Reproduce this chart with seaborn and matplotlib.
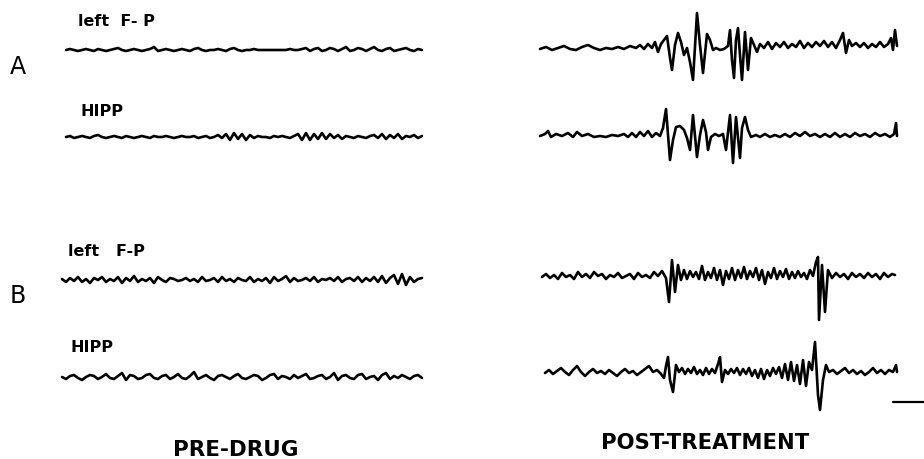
import numpy as np
import matplotlib
matplotlib.use("Agg")
import matplotlib.pyplot as plt
import seaborn as sns

# EEG amplitudes (arbitrary units, positive = up)
# Pre-drug sweeps: uniformly sampled every 40 ms
DT_PRE = 40
a_fp_pre = [0, 1, 0, -1, 0, 1, 0, -1, 1, 0, -1, 0, 1, 2, 0, -1, 0, 1, 0, -1,
            0, 1, 3, -1, 0, 1, 0, -1, 0, 1, 0, -1, 1, 2, 0, -1, 0, 0, 1, 0,
            -1, 1, 2, 0, -1, 0, 0, 1, 0, 0, 0, 0, 0, 0, 0, 0, 1, 0, 0, 1,
            2, -1, 1, 2, -1, 0, 2, 1, -1, 1, 3, -1, 0, 2, 1, -1, 1, 3, 0, -1,
            1, 2, -1, 0, 1, 2, 0, -1, 1, 0]
a_hipp_pre = [0, 1, -1, 0, 1, 0, -1, 1, 2, 0, -1, 0, 1, 0, -1, 1, 0, -1, 0, 1,
              0, -1, 1, 0, 0, 1, 0, -1, 0, 1, 0, 0, 1, -1, 0, 1, -1, 0, 2, -1,
              3, -3, 4, -2, 3, -3, 2, -1, 1, 0, 0, -1, 1, 0, 1, 0, -1, 1, 3, -3,
              4, -3, 3, -2, 4, -2, 3, -1, 2, -2, 1, 0, -1, 1, 0, -1, 1, 2, -1, 3,
              -2, 2, -1, 3, -2, 1, 0, 2, -1, 1]
b_fp_pre = [1, -2, 2, -1, 3, -2, 1, -3, 2, 0, 3, -2, 1, -1, 3, -3, 2, -1, 4, -2,
            1, -1, 2, -3, 3, 0, -2, 2, 1, -1, 0, 2, -1, 1, -2, 3, -1, 0, 2, -2,
            3, -1, 1, -2, 2, 0, -1, 3, -2, 1, -1, 2, -3, 3, -1, 1, 4, -2, 2, -1,
            0, 2, -1, 3, -2, 1, 0, 2, -1, 3, -2, 1, 2, -1, 3, -2, 2, -1, 3, -2,
            4, -3, 2, 5, -4, 6, -5, 3, -2, 1, 2]
b_hipp_pre = [0, -2, 1, 2, -1, -3, 0, 2, 1, -2, 0, 3, -1, -2, 1, 4, -3, 2, 1, -2,
              -1, 2, 3, -1, -2, 1, 2, -2, 0, 3, -1, -2, 1, 5, -2, 0, 2, -1, -3, 1,
              2, 0, -2, 1, 3, -1, -2, 0, 2, 1, -3, -1, 2, 3, -2, 1, 0, -2, 2, -1,
              1, 3, -2, -1, 1, 2, -2, 0, 4, -3, 1, 2, -1, -2, 2, 3, -2, 0, 1, -3,
              2, 4, -2, 1, -1, 2, 0, -2, 1, 2, -1]

# Post-treatment sweeps: time (ms from sweep start) and amplitude
t_a_fp_post = [0, 60, 120, 180, 240, 300, 360, 420, 480, 540, 600, 660, 720, 780,
               840, 900, 960, 1000, 1040, 1080, 1120, 1150, 1180, 1210, 1240, 1270,
               1300, 1320, 1350, 1380, 1410, 1440, 1470, 1500, 1530, 1570, 1600,
               1630, 1670, 1700, 1730, 1760, 1800, 1840, 1880, 1900, 1920, 1940,
               1960, 1980, 2000, 2020, 2050, 2080, 2110, 2140, 2170, 2200, 2240,
               2280, 2320, 2360, 2400, 2440, 2480, 2520, 2560, 2600, 2640, 2680,
               2720, 2760, 2800, 2840, 2880, 2920, 2960, 3000, 3030, 3060, 3090,
               3120, 3160, 3200, 3240, 3280, 3320, 3360, 3400, 3440, 3480, 3510,
               3530, 3550, 3570]
a_fp_post = [-1, 1, -2, 0, 2, -1, -2, 1, 3, 0, -2, 0, -1, 1, -1, 2, 0, 3, -1, 4,
             0, 6, -4, 4, 8, 12, -10, -22, 3, 15, 6, -7, 0, -14, -32, 35, 3, -25, 14, 8,
             -2, 0, -2, -1, 2, 18, -12, -30, 8, 20, -7, -32, 16, -22, 10, 3, -4, 4, 0, 6,
             -1, 5, 1, 6, 0, 4, 1, 7, 0, 5, 1, 6, 2, 7, 1, 6, 0, 8, 15, -5,
             8, 2, 5, 1, 5, 0, 4, 1, 6, 1, 4, 10, -2, 18, 2]

t_a_hipp_post = [0, 50, 80, 110, 160, 220, 280, 330, 370, 420, 480, 540, 600, 660,
                 720, 780, 840, 880, 920, 960, 1000, 1040, 1080, 1120, 1160, 1200,
                 1230, 1260, 1300, 1330, 1360, 1400, 1440, 1470, 1500, 1530, 1570,
                 1600, 1630, 1660, 1680, 1710, 1750, 1790, 1830, 1860, 1900, 1930,
                 1960, 2000, 2020, 2050, 2080, 2110, 2160, 2200, 2250, 2300, 2350,
                 2400, 2450, 2500, 2550, 2600, 2650, 2700, 2750, 2800, 2850, 2900,
                 2950, 3000, 3050, 3100, 3150, 3200, 3250, 3300, 3350, 3400, 3450,
                 3500, 3540, 3560, 3570]
a_hipp_post = [0, 2, 5, -1, 2, 0, 3, -1, 4, 0, 2, -1, 0, -1, 1, 0, 2, -1, 3, -1,
               4, 0, 5, -1, 3, 0, 8, 27, -24, -4, 9, 10, 6, -2, -14, 21, -21, 1, 16, 4,
               -14, -1, 2, 0, 2, -14, 21, -27, 19, -22, 8, 19, 6, -1, 1, -1, 2, -1, 1, -1,
               2, -1, 3, 0, 4, 0, 2, -1, 2, -1, 3, -1, 2, -1, 3, 0, 2, -1, 3, 0,
               2, -1, 2, 13, 0]

t_b_fp_post = [0, 40, 80, 120, 160, 200, 240, 280, 320, 360, 400, 440, 480, 520,
               560, 600, 640, 680, 720, 760, 800, 840, 880, 920, 960, 1000, 1040,
               1080, 1120, 1160, 1200, 1240,
               1270, 1300, 1330, 1360, 1390, 1420, 1450, 1480, 1510, 1540, 1570,
               1600, 1630, 1660, 1690, 1720, 1750, 1780, 1810, 1840, 1870, 1900,
               1930, 1960, 1990, 2020, 2050, 2080, 2110, 2140, 2170, 2200, 2230,
               2260, 2290, 2320, 2350, 2380, 2410, 2440, 2470, 2500, 2530, 2560,
               2590, 2620, 2650, 2680, 2710,
               2740, 2760, 2770, 2800, 2830, 2860,
               2900, 2940, 2980, 3020, 3060, 3100, 3140, 3180, 3220, 3260, 3300,
               3340, 3380, 3420, 3460, 3500, 3530]
b_fp_post = [-1, 2, -2, 1, -3, 3, -1, 1, -3, 4, -1, 2, -2, 4, 0, 2, -3, 1, -1, 3,
             -2, 0, 2, -3, 3, -1, 1, -2, 4, 0, 5, -2,
             -26, 16, -16, 11, -4, 6, -3, 5, -1, 4, -3, 10, -4, 4, -2, 8, -4, 6, -9, 5,
             -3, 8, -4, 6, -2, 9, -3, 5, -1, 8, -4, 6, -8, 4, -2, 8, -3, 5, -1, 7,
             -3, 4, -2, 5, -1, 3, -3, 6, 0,
             14, 19, -44, 11, -36, 6,
             -2, 3, -1, 2, -3, 3, -1, 2, -2, 3, -1, 2, -3, 3, -1, 2, 1]

t_b_hipp_post = [0, 40, 80, 120, 160, 200, 240, 280, 320, 360, 400, 440, 480, 520,
                 560, 600, 640, 680, 720, 760, 800, 840, 880, 920, 960, 1000, 1040,
                 1080, 1120, 1160, 1190, 1210, 1230, 1250, 1280, 1310, 1340, 1370,
                 1400, 1430, 1460, 1490, 1520, 1550, 1580, 1610, 1640, 1670, 1700,
                 1730, 1750, 1770, 1800, 1830, 1860, 1890, 1920, 1950, 1980, 2010,
                 2040, 2070, 2100, 2130, 2160, 2190, 2220, 2250, 2280, 2310, 2340,
                 2370, 2400, 2430, 2460, 2490, 2520, 2550, 2580, 2610, 2640, 2670,
                 2700, 2730, 2750, 2780, 2810, 2840, 2880, 2920, 2960, 3000, 3040,
                 3080, 3120, 3160, 3200, 3240, 3280, 3320, 3360, 3400, 3440, 3480,
                 3510, 3520]
b_hipp_post = [0, 3, -1, 2, 5, 1, -2, 3, 7, 1, -3, 1, 4, 0, 2, -1, 3, 0, -3, 1,
               4, 0, 2, -2, 1, 4, 7, 1, 3, -1, -5, 7, 16, -7, -19, 8, 1, 5, -1, 4,
               0, 6, -1, 3, -2, 5, -1, 4, 0, 9, 16, -9, 3, -1, 4, 0, 5, -2, 4, -1,
               5, -3, 3, -5, 4, -6, 3, -3, 5, -1, 6, -5, 9, -7, 11, -8, 8, -11, 13, -13,
               11, 3, 31, -22, -37, -7, 8, 1, 3, -1, 2, 5, 0, 3, -1, 2, -2, 1, 5, 0,
               3, -1, 3, 1, 8, 1]

fp_labels = ["left  F- P", "left   F-P"]
hipp_label = "HIPP"
row_labels = ["A", "B"]
condition_labels = ["PRE-DRUG", "POST-TREATMENT"]
CAL_MS = 310  # calibration bar length

# layout in figure pixels
PX_PER_MS = 0.1
sns.set_style("white")
fig = plt.figure(figsize=(9.24, 4.59), dpi=100)
ax = fig.add_axes([0, 0, 1, 1])
ax.set_xlim(0, 924)
ax.set_ylim(459, 0)
ax.axis("off")

pre = [(a_fp_pre, 66, 50), (a_hipp_pre, 66, 137),
       (b_fp_pre, 62, 280), (b_hipp_pre, 62, 377)]
post = [(t_a_fp_post, a_fp_post, 540, 48), (t_a_hipp_post, a_hipp_post, 540, 136),
        (t_b_fp_post, b_fp_post, 542, 276), (t_b_hipp_post, b_hipp_post, 545, 373)]

lw = 1.9
for amp, x0, base in pre:
    t = np.arange(len(amp)) * DT_PRE
    sns.lineplot(x=x0 + t * PX_PER_MS, y=base - np.array(amp), ax=ax,
                 color="black", linewidth=lw, sort=False, estimator=None)

for t, amp, x0, base in post:
    assert len(t) == len(amp)
    sns.lineplot(x=x0 + np.array(t) * PX_PER_MS, y=base - np.array(amp), ax=ax,
                 color="black", linewidth=lw, sort=False, estimator=None)

# calibration bar
ax.plot([893, 893 + CAL_MS * PX_PER_MS], [402, 402], color="black", lw=1.6)

font = "DejaVu Sans"
lab = dict(fontsize=11.5, fontweight="bold", family=font, va="center", ha="left",
           color="black")
ax.text(78, 22, fp_labels[0], **lab)
ax.text(80, 112, hipp_label, **lab)
ax.text(68, 252, fp_labels[1], **lab)
ax.text(70, 347, hipp_label, **lab)

big = dict(fontsize=17, family=font, va="center", ha="left", color="black")
ax.text(10, 67, row_labels[0], **big)
ax.text(10, 296, row_labels[1], **big)

cond = dict(fontweight="bold", family=font, va="center", ha="center", color="black")
ax.text(236, 450, condition_labels[0], fontsize=15.5, **cond)
ax.text(705, 443, condition_labels[1], fontsize=15.2, **cond)

plt.savefig("out.png", dpi=100, facecolor="white")
